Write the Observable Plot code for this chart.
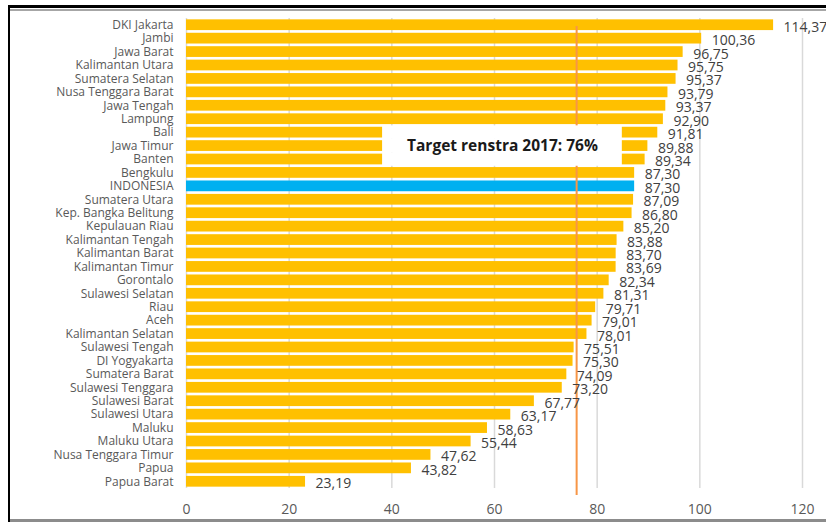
<!DOCTYPE html>
<html>
<head>
<meta charset="utf-8">
<script src="https://cdn.jsdelivr.net/npm/d3@7"></script>
<script src="https://cdn.jsdelivr.net/npm/@observablehq/plot@0.6"></script>
<style>
  html, body { margin: 0; padding: 0; background: #fff; }
  #wrap { position: relative; width: 826px; height: 522px; overflow: hidden; }
  #chart svg { display: block; }
  .frame { position: absolute; }
</style>
</head>
<body>
<div id="wrap">
  <div id="chart"></div>
  <div class="frame" style="left:8px; top:5px; width:818px; height:3px; background:#000;"></div>
  <div class="frame" style="left:10px; top:9px; width:816px; height:2px; background:#a6a6a6;"></div>
  <div class="frame" style="left:8px; top:5px; width:2px; height:517px; background:#000;"></div>
  <div class="frame" style="left:10px; top:519px; width:816px; height:3px; background:#8c8c8c;"></div>
</div>
<script>
const provinces = ["DKI Jakarta","Jambi","Jawa Barat","Kalimantan Utara","Sumatera Selatan","Nusa Tenggara Barat","Jawa Tengah","Lampung","Bali","Jawa Timur","Banten","Bengkulu","INDONESIA","Sumatera Utara","Kep. Bangka Belitung","Kepulauan Riau","Kalimantan Tengah","Kalimantan Barat","Kalimantan Timur","Gorontalo","Sulawesi Selatan","Riau","Aceh","Kalimantan Selatan","Sulawesi Tengah","DI Yogyakarta","Sumatera Barat","Sulawesi Tenggara","Sulawesi Barat","Sulawesi Utara","Maluku","Maluku Utara","Nusa Tenggara Timur","Papua","Papua Barat"];
const values = [114.37,100.36,96.75,95.75,95.37,93.79,93.37,92.90,91.81,89.88,89.34,87.30,87.30,87.09,86.80,85.20,83.88,83.70,83.69,82.34,81.31,79.71,79.01,78.01,75.51,75.30,74.09,73.20,67.77,63.17,58.63,55.44,47.62,43.82,23.19];
const xTicks = [0,20,40,60,80,100,120];
const target = 76;
const targetLabel = "Target renstra 2017: 76%";
const boxRows = ["Bali","Jawa Timur","Banten"];
const boxX1 = 38.2, boxX2 = 84.9;

const data = provinces.map((p, i) => ({province: p, value: values[i]}));
const fmt = v => v.toFixed(2).replace(".", ",");

const chart = Plot.plot({
  width: 826,
  height: 522,
  marginLeft: 186,
  marginRight: 24,
  marginTop: 18,
  marginBottom: 34,
  style: {fontFamily: "'Open Sans', sans-serif", background: "transparent"},
  x: {domain: [0, 120], ticks: xTicks},
  y: {domain: provinces, paddingInner: 0.2, paddingOuter: 0.1, round: false},
  marks: [
    Plot.gridX(xTicks, {stroke: "#d9d9d9", strokeOpacity: 1, strokeWidth: 1.5}),
    Plot.barX(data, {
      y: "province", x: "value",
      fill: d => d.province === "INDONESIA" ? "#00b0f0" : "#ffc000"
    }),
    Plot.ruleX([target], {stroke: "#f79646", strokeWidth: 2, insetTop: 8, insetBottom: -7}),
    Plot.barX(boxRows, {y: d => d, x1: () => boxX1, x2: () => boxX2, fill: "white", insetTop: -1.4, insetBottom: -1.4}),
    Plot.text([targetLabel], {
      x: () => (boxX1 + boxX2) / 2, y: () => boxRows[1], text: d => d,
      fontSize: 15.5, fontWeight: "bold", fill: "#1a1a1a"
    }),
    Plot.text(data, {
      y: "province", x: "value", text: d => fmt(d.value),
      textAnchor: "start", dx: 10, dy: 2, fontSize: 14, fill: "#404040"
    }),
    Plot.axisY({tickSize: 0, tickPadding: 13, fontSize: 12, color: "#595959", label: null}),
    Plot.axisX(xTicks, {tickSize: 0, tickPadding: 16, fontSize: 14, color: "#595959", label: null})
  ]
});
document.getElementById("chart").appendChild(chart);
</script>
</body>
</html>
